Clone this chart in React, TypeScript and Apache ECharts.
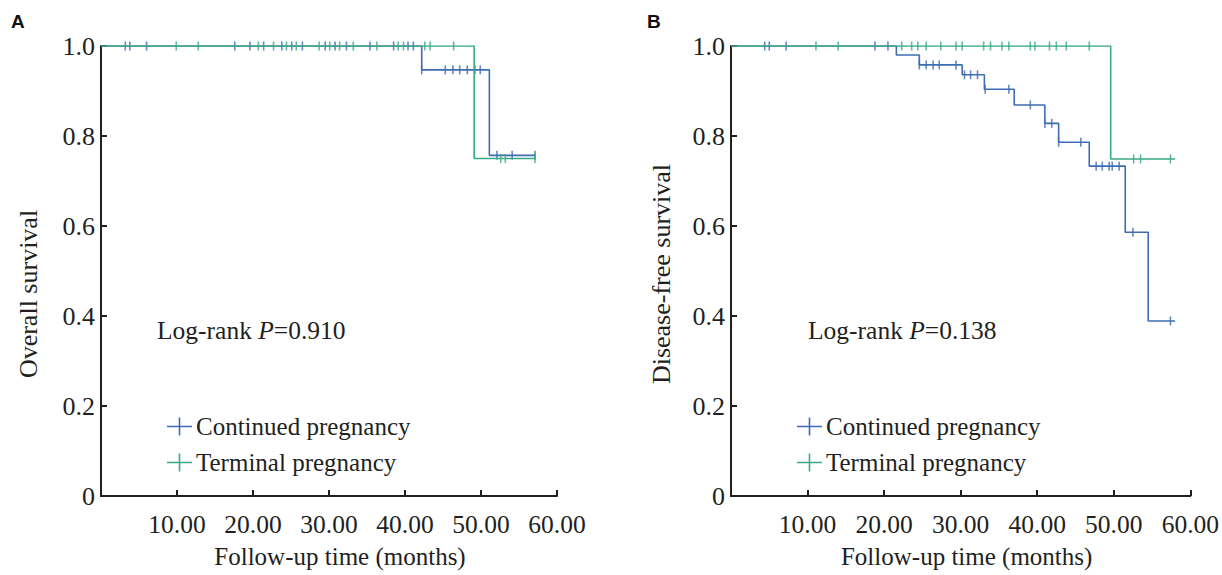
import React, { useEffect, useRef } from "react";
import * as echarts from "echarts";

// ---------- data ----------
const xTicks = [0, 10, 20, 30, 40, 50, 60];
const yTicks = [0, 0.2, 0.4, 0.6, 0.8, 1.0];
const seriesNames = ["Continued pregnancy", "Terminal pregnancy"];
const yTitles = ["Overall survival", "Disease-free survival"];
const xTitle = "Follow-up time (months)";
const pValues = ["0.910", "0.138"];
const panelLabels = ["A", "B"];

// Panel A: Kaplan-Meier steps [month, survival]
const contA = [[0, 1], [42.2, 0.947], [51.1, 0.757], [57.2, 0.757]];
const termA = [[0, 1], [49.1, 0.75], [57.2, 0.75]];
const contACens = [3.2, 3.8, 6.0, 17.6, 19.6, 21.4, 23.8, 25.1, 26.5, 29.5, 30.8, 32.3, 35.4, 38.5, 40.4, 41.1,
  42.2, 45.3, 46.3, 47.2, 48.2, 49.2, 49.9, 52.1, 54.1, 57.1];
const termACens = [9.9, 12.8, 20.7, 22.7, 24.4, 25.7, 28.7, 30.1, 31.4, 33.2, 36.3, 39.1, 39.8, 42.6, 43.3, 46.4,
  52.6, 53.2, 57.1];

// Panel B
const contB = [[0, 1], [21.6, 0.98], [24.6, 0.958], [30.2, 0.936], [33.1, 0.904], [37.0, 0.869], [41.0, 0.828],
  [42.8, 0.786], [46.8, 0.733], [51.5, 0.586], [54.5, 0.389], [58.0, 0.389]];
const termB = [[0, 1], [49.6, 0.749], [58.0, 0.749]];
const contBCens = [4.4, 5.0, 7.2, 18.8, 20.5, 24.6, 25.5, 26.4, 27.2, 29.4, 30.5, 31.3, 32.2, 33.2, 36.3, 39.1,
  41.0, 41.9, 42.8, 45.7, 47.7, 48.5, 49.4, 49.8, 50.7, 52.5, 57.4];
const termBCens = [11.1, 14.0, 22.3, 23.6, 24.4, 25.5, 27.4, 29.4, 30.2, 33.0, 33.9, 35.4, 36.3, 39.1, 39.7,
  41.6, 42.5, 43.8, 46.8, 52.6, 53.5, 57.4];

// ---------- helpers ----------
const BLUE = "#3f6db3";
const GREEN = "#38ab84";
const TEXT = "#231f20";
const SERIF = "'Liberation Serif', 'Times New Roman', serif";

function survAt(curve: number[][], t: number) {
  let v = curve[0][1];
  for (const [x, y] of curve) {
    if (x <= t + 1e-9) v = y;
  }
  return v;
}
const cens = (curve: number[][], times: number[]) => times.map((t) => [t, survAt(curve, t)]);

const plusIcon = "path://M0,8.2H25V9.8H0Z M11.7,0H13.3V18H11.7Z";

export default function App() {
  const ref = useRef<HTMLDivElement>(null);
  useEffect(() => {
    if (!ref.current) return;
    const chart = echarts.init(ref.current, undefined, { renderer: "svg" });

    const grids = [
      { left: 101, top: 46, width: 456, height: 450 },
      { left: 731, top: 46, width: 464, height: 450 },
    ];
    const curves = [
      [contA, termA, contACens, termACens],
      [contB, termB, contBCens, termBCens],
    ];
    const xNamePad = [[0, 0, 0, 22], [0, 0, 0, 12]];
    const yNamePad = [[0, 46, 0, 0], [0, 6, 0, 0]];
    const yNameGap = [60, 57];
    const axisCommon = {
      axisLine: { show: true, lineStyle: { color: TEXT, width: 2 } },
      axisTick: { show: true, inside: true, length: 6, lineStyle: { color: TEXT, width: 2 } },
      splitLine: { show: false },
    };
    const xAxes = grids.map((_, i) => ({
      type: "value",
      gridIndex: i,
      min: xTicks[0],
      max: xTicks[xTicks.length - 1],
      interval: 10,
      ...axisCommon,
      axisLabel: {
        margin: 15,
        fontFamily: SERIF,
        fontSize: 25.5,
        color: TEXT,
        formatter: (v: number) => (v === 0 ? "" : v.toFixed(2)),
      },
      name: xTitle,
      nameLocation: "middle",
      nameGap: 48,
      nameTextStyle: { fontFamily: SERIF, fontSize: 25, color: TEXT, padding: xNamePad[i] },
    }));
    const yAxes = grids.map((_, i) => ({
      type: "value",
      gridIndex: i,
      min: yTicks[0],
      max: yTicks[yTicks.length - 1],
      interval: 0.2,
      ...axisCommon,
      axisLabel: {
        margin: 6,
        fontFamily: SERIF,
        fontSize: 26,
        color: TEXT,
        formatter: (v: number) => (v === 0 ? "0" : v.toFixed(1)),
      },
      name: yTitles[i],
      nameLocation: "middle",
      nameGap: yNameGap[i],
      nameTextStyle: { fontFamily: SERIF, fontSize: 26, color: TEXT, padding: yNamePad[i] },
    }));

    const series: any[] = [];
    curves.forEach(([c, t, cc, tc], i) => {
      series.push({
        name: seriesNames[0], type: "line", step: "end", xAxisIndex: i, yAxisIndex: i,
        data: c, showSymbol: false, symbol: "none", lineStyle: { color: BLUE, width: 1.6 }, itemStyle: { color: BLUE }, z: 2,
      });
      series.push({
        name: seriesNames[0] + " censored", type: "scatter", xAxisIndex: i, yAxisIndex: i,
        data: cens(c, cc as number[]), symbol: "rect", symbolSize: [1.6, 9], itemStyle: { color: BLUE }, z: 3,
      });
      series.push({
        name: seriesNames[1], type: "line", step: "end", xAxisIndex: i, yAxisIndex: i,
        data: t, showSymbol: false, symbol: "none", lineStyle: { color: GREEN, width: 1.6 }, itemStyle: { color: GREEN }, z: 4,
      });
      series.push({
        name: seriesNames[1] + " censored", type: "scatter", xAxisIndex: i, yAxisIndex: i,
        data: cens(t, tc as number[]), symbol: "rect", symbolSize: [1.6, 9], itemStyle: { color: GREEN }, z: 5,
      });
    });

    const legends = [167, 797].map((left) => ({
      left,
      top: 414,
      padding: 0,
      orient: "vertical",
      itemWidth: 25,
      itemHeight: 18,
      itemGap: 11,
      selectedMode: false,
      data: seriesNames.map((n) => ({ name: n, icon: plusIcon })),
      textStyle: { fontFamily: SERIF, fontSize: 25, color: TEXT, padding: [0, 0, 0, -1] },
    }));

    const graphics: any[] = [];
    [11, 647].forEach((x, i) => {
      graphics.push({
        type: "text", left: x, top: 12,
        style: { text: panelLabels[i], fontFamily: "Arial, 'Liberation Sans', sans-serif", fontSize: 19, fontWeight: "bold", fill: "#111" },
      });
    });
    [157, 808].forEach((x, i) => {
      graphics.push({
        type: "text", left: x, top: 317,
        style: {
          text: `{a|Log-rank }{b|P}{a|=${pValues[i]}}`,
          rich: {
            a: { fontFamily: SERIF, fontSize: 25.5, fill: TEXT },
            b: { fontFamily: SERIF, fontSize: 25.5, fontStyle: "italic", fill: TEXT },
          },
        },
      });
    });

    chart.setOption({
      animation: false,
      backgroundColor: "#fff",
      grid: grids,
      xAxis: xAxes,
      yAxis: yAxes,
      legend: legends,
      series,
      graphic: graphics,
    });
    return () => chart.dispose();
  }, []);
  return <div ref={ref} style={{ position: "fixed", left: 0, top: 0, width: 1222, height: 575 }} />;
}
